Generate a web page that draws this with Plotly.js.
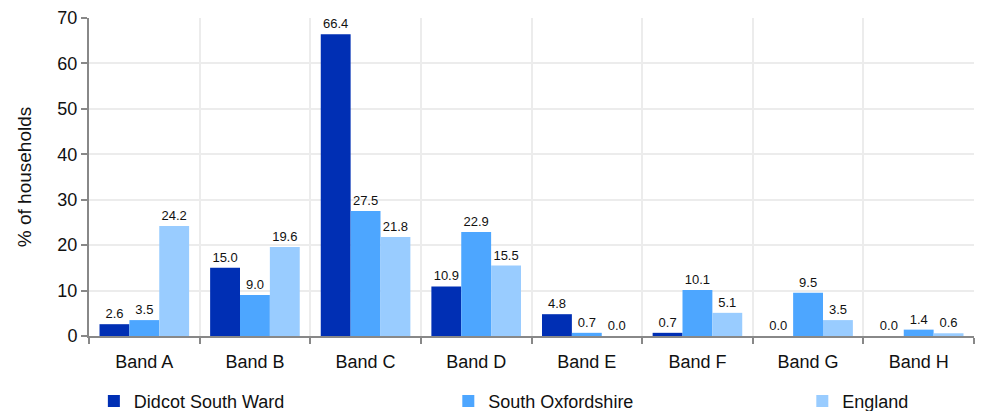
<!DOCTYPE html>
<html><head><meta charset="utf-8">
<script src="https://cdn.plot.ly/plotly-3.0.1.min.js"></script>
<style>html,body{margin:0;padding:0;background:#fff}#chart{width:981px;height:411px}</style>
</head><body><div id="chart"></div>
<script>
const categories = ["Band A","Band B","Band C","Band D","Band E","Band F","Band G","Band H"];
const didcot = [2.6, 15.0, 66.4, 10.9, 4.8, 0.7, 0.0, 0.0];
const southOx = [3.5, 9.0, 27.5, 22.9, 0.7, 10.1, 9.5, 1.4];
const england = [24.2, 19.6, 21.8, 15.5, 0.0, 5.1, 3.5, 0.6];
const seriesNames = ["Didcot South Ward","South Oxfordshire","England"];
const colors = ["#002FB4","#4DA6FF","#99CCFF"];
const legendIds = ["legend","legend2","legend3"];
const font = "Liberation Sans, Arial, sans-serif";

const traces = [didcot, southOx, england].map((vals, i) => ({
  type: "bar", name: seriesNames[i], x: categories, y: vals,
  legend: legendIds[i],
  marker: {color: colors[i], line: {width: 0}},
  text: vals.map(v => v.toFixed(1)), textposition: "outside",
  textfont: {size: 13, color: "#111", family: font},
  cliponaxis: false
}));

const legendBase = {
  orientation: "h", y: -0.205, yanchor: "middle", xanchor: "left",
  font: {size: 18, family: font, color: "#111"}, itemwidth: 30,
  bgcolor: "rgba(0,0,0,0)"
};

const layout = {
  width: 981, height: 411,
  margin: {l: 89, r: 7, t: 18, b: 75, autoexpand: false},
  paper_bgcolor: "#fff", plot_bgcolor: "#fff",
  barmode: "group", bargap: 0.19, bargroupgap: 0,
  font: {family: font, size: 18, color: "#111"},
  xaxis: {
    type: "category", tickson: "boundaries",
    showgrid: true, gridcolor: "#ececec", gridwidth: 2,
    showline: true, linecolor: "#888", linewidth: 2,
    ticks: "outside", ticklen: 6, tickcolor: "#888", tickwidth: 2,
    tickfont: {size: 18, family: font}, automargin: false,
    ticklabelstandoff: 8
  },
  yaxis: {
    range: [0, 70], dtick: 10, fixedrange: true,
    showgrid: true, gridcolor: "#ececec", gridwidth: 2,
    showline: true, linecolor: "#888", linewidth: 2,
    ticks: "outside", ticklen: 6, tickcolor: "#888", tickwidth: 2,
    zeroline: false, automargin: false,
    tickfont: {size: 18, family: font},
    title: {text: "% of households", font: {size: 19, family: font}, standoff: 21}
  },
  showlegend: true,
  legend: Object.assign({}, legendBase, {x: 0.0055}),
  legend2: Object.assign({}, legendBase, {x: 0.406}),
  legend3: Object.assign({}, legendBase, {x: 0.806})
};
Plotly.newPlot("chart", traces, layout, {displayModeBar: false, staticPlot: true});
</script></body></html>
